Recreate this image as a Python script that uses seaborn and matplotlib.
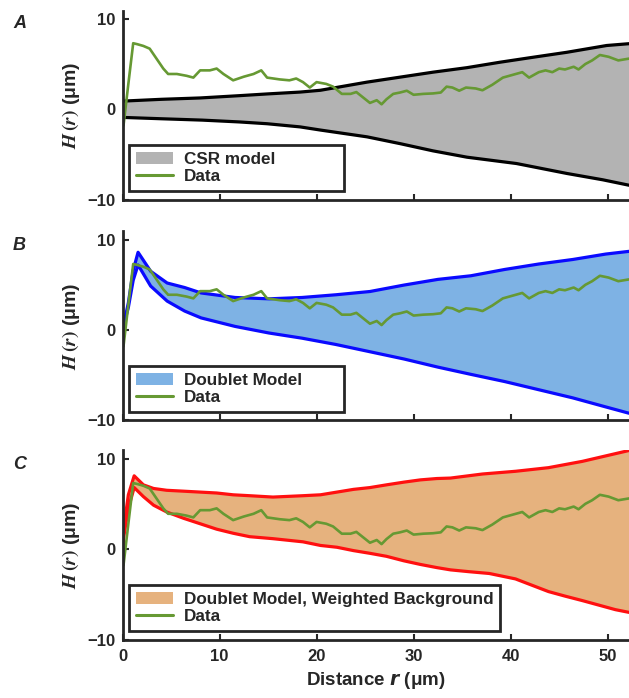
import numpy as np
import matplotlib
matplotlib.use('Agg')
import matplotlib.pyplot as plt
import seaborn as sns
from matplotlib.patches import Patch
from matplotlib.lines import Line2D

# values (r and H(r) both in um)
data_r = [0.1, 0.6, 1.1, 1.5, 2.15, 2.8, 3.5, 4.2, 4.7, 5.6, 6.6, 7.3, 8.0, 9.0, 9.7, 10.4,
          11.4, 12.5, 13.5, 14.3, 14.9, 16.2, 17.2, 17.9, 18.6, 19.3, 20.0, 21.0, 21.7, 22.6,
          23.5, 24.1, 24.8, 25.5, 26.2, 26.7, 27.2, 27.9, 28.6, 29.3, 30.0, 31.0, 32.0, 32.8,
          33.4, 34.0, 34.7, 35.4, 36.4, 37.1, 38.1, 39.2, 40.2, 41.2, 41.9, 42.9, 43.6, 44.3,
          45.0, 45.6, 46.5, 47.0, 47.7, 48.4, 49.2, 50.1, 51.1, 52.2]
data_h = [-1.8, 2.8, 7.3, 7.2, 7.0, 6.7, 5.6, 4.5, 3.9, 3.9, 3.7, 3.5, 4.3, 4.3, 4.5, 3.9,
          3.2, 3.6, 3.9, 4.3, 3.5, 3.3, 3.2, 3.4, 3.0, 2.4, 3.0, 2.8, 2.5, 1.7,
          1.7, 1.9, 1.3, 0.7, 1.0, 0.55, 1.1, 1.7, 1.85, 2.05, 1.6, 1.7, 1.75, 1.85,
          2.5, 2.4, 2.05, 2.4, 2.3, 2.1, 2.7, 3.5, 3.8, 4.1, 3.5, 4.1, 4.3, 4.1,
          4.5, 4.4, 4.7, 4.4, 5.0, 5.4, 6.0, 5.8, 5.4, 5.6]

# A: CSR model envelope
csr_up_r = [0.0, 4.0, 8.0, 12.0, 15.0, 18.3, 20.4, 25.2, 28.6, 32.0, 35.5, 38.9, 42.0, 45.8, 49.9, 52.2]
csr_up_h = [0.9, 1.1, 1.25, 1.5, 1.7, 1.9, 2.1, 3.0, 3.55, 4.1, 4.6, 5.2, 5.7, 6.3, 7.05, 7.25]
csr_lo_r = [0.0, 4.0, 8.2, 12.0, 14.9, 18.3, 20.4, 25.2, 28.6, 32.0, 35.5, 40.6, 45.8, 49.5, 52.2]
csr_lo_h = [-0.9, -1.05, -1.2, -1.4, -1.6, -1.95, -2.3, -3.05, -3.8, -4.6, -5.3, -6.0, -7.1, -7.8, -8.4]

# B: doublet model envelope
dbl_up_r = [0.0, 0.6, 1.1, 1.6, 2.9, 4.6, 6.4, 8.1, 11.6, 15.1, 18.5, 22.0, 25.5, 29.0, 32.5,
            35.9, 39.4, 42.9, 46.4, 49.8, 52.2]
dbl_up_h = [0.0, 3.0, 6.6, 8.6, 6.5, 5.2, 4.7, 4.1, 3.6, 3.45, 3.6, 3.9, 4.26, 4.97, 5.6,
            6.0, 6.7, 7.3, 7.8, 8.4, 8.7]
dbl_lo_r = [0.0, 0.6, 1.1, 1.6, 2.9, 4.6, 6.4, 8.1, 11.6, 15.1, 18.5, 22.0, 25.5, 29.0, 32.5,
            35.9, 39.4, 42.9, 46.4, 49.8, 52.2]
dbl_lo_h = [0.0, 2.5, 5.5, 7.2, 4.86, 3.2, 2.1, 1.34, 0.4, -0.33, -0.9, -1.6, -2.4, -3.2, -4.1,
            -4.9, -5.7, -6.6, -7.5, -8.5, -9.2]

# C: doublet model, weighted background
wbg_up_r = [0.0, 0.15, 0.6, 1.2, 2.15, 3.2, 4.55, 6.3, 8.0, 9.7, 11.4, 13.1, 15.5, 18.6, 20.4,
            22.1, 23.8, 25.5, 27.2, 29.0, 30.7, 32.4, 33.8, 37.1, 40.5, 43.9, 47.4, 49.8, 52.2]
wbg_up_h = [0.2, 2.5, 6.0, 8.1, 7.1, 6.7, 6.5, 6.4, 6.3, 6.2, 6.0, 5.9, 5.75, 5.9, 6.0,
            6.3, 6.6, 6.8, 7.1, 7.4, 7.65, 7.8, 7.85, 8.3, 8.6, 9.0, 9.7, 10.3, 10.9]
wbg_lo_r = [0.0, 0.15, 0.6, 1.2, 2.15, 3.2, 4.55, 6.3, 8.0, 9.7, 11.4, 13.1, 15.5, 18.6, 20.4,
            22.1, 23.8, 25.5, 27.2, 29.0, 30.7, 32.4, 33.8, 35.7, 37.8, 40.5, 42.2, 43.9, 45.6,
            47.4, 49.1, 50.8, 52.2]
wbg_lo_h = [0.2, 1.5, 4.5, 6.8, 5.8, 4.85, 4.1, 3.4, 2.8, 2.2, 1.75, 1.37, 1.15, 0.8, 0.4,
            0.2, -0.17, -0.47, -0.8, -1.3, -1.7, -2.05, -2.3, -2.5, -2.7, -3.3, -4.0, -4.7, -5.2,
            -5.7, -6.2, -6.7, -7.0]

model_labels = ['CSR model', 'Doublet Model', 'Doublet Model, Weighted Background']
panel_letters = ['A', 'B', 'C']

sns.set_style('ticks')
plt.rcParams['font.family'] = ['Liberation Sans', 'DejaVu Sans']
plt.rcParams['font.weight'] = 'bold'
plt.rcParams['axes.labelweight'] = 'bold'

green = '#669933'
dark = '#262626'
panels = [
    (csr_up_r, csr_up_h, csr_lo_r, csr_lo_h, '#b3b3b3', '#000000'),
    (dbl_up_r, dbl_up_h, dbl_lo_r, dbl_lo_h, '#7eb2e4', '#0a0aff'),
    (wbg_up_r, wbg_up_h, wbg_lo_r, wbg_lo_h, '#e6b27e', '#ff1010'),
]

fig = plt.figure(figsize=(6.29, 6.98), dpi=100)
bottoms = [0.7139, 0.3976, 0.0838]
letter_tops = [15, 237, 456]

for k, (ur, uh, lr, lh, fill_c, line_c) in enumerate(panels):
    ax = fig.add_axes([0.1948, bottoms[k], 0.8052, 0.2708])
    # shaded envelope between the upper and lower model curves
    ax.fill(ur + lr[::-1], uh + lh[::-1], color=fill_c, lw=0, zorder=1)
    sns.lineplot(x=ur, y=uh, ax=ax, color=line_c, lw=2.3, sort=False, estimator=None)
    sns.lineplot(x=lr, y=lh, ax=ax, color=line_c, lw=2.3, sort=False, estimator=None)
    sns.lineplot(x=data_r, y=data_h, ax=ax, color=green, lw=1.9, sort=False, estimator=None)

    ax.set_xlim(0, 52.2)
    ax.set_ylim(-10, 10.9)
    ax.set_xticks([0, 10, 20, 30, 40, 50])
    ax.set_yticks([-10, 0, 10])
    sns.despine(ax=ax)
    for s in ['left', 'bottom']:
        ax.spines[s].set_linewidth(2)
        ax.spines[s].set_color(dark)
    ax.tick_params(direction='in', length=4, width=1.5, color=dark, labelsize=12,
                   labelcolor=dark, pad=5)
    for t in ax.get_xticklabels() + ax.get_yticklabels():
        t.set_fontweight('bold')
    if k < 2:
        ax.set_xticklabels([])
    else:
        ax.tick_params(axis='x', pad=7)
        ax.set_xlabel('Distance $\\boldsymbol{r}$ (μm)', fontsize=13.5, color=dark, labelpad=4)
    ax.set_ylabel('$\\boldsymbol{H}\\,(\\boldsymbol{r})$ (μm)', fontsize=14, color=dark,
                  labelpad=4, math_fontfamily='stix')

    handles = [Patch(facecolor=fill_c, edgecolor='none'), Line2D([], [], color=green, lw=2.2)]
    leg_kw = dict(loc='lower left', prop={'weight': 'bold', 'size': 12.3},
                  frameon=True, fancybox=False, framealpha=1, edgecolor=dark,
                  borderaxespad=0, borderpad=0.42, labelspacing=0.1,
                  handlelength=2.2, handletextpad=0.6)
    if k < 2:
        # the first two legend boxes share one fixed width
        leg = ax.legend(handles, [model_labels[k], 'Data'],
                        bbox_to_anchor=(0.0118, 0.045, 0.4245, 0.3), mode='expand', **leg_kw)
    else:
        leg = ax.legend(handles, [model_labels[k], 'Data'],
                        bbox_to_anchor=(0.0118, 0.045), **leg_kw)
    leg.get_frame().set_linewidth(2)

    fig.text(13 / 629, 1 - letter_tops[k] / 698, panel_letters[k], fontsize=13,
             fontweight='bold', style='italic', color=dark, ha='left', va='top')

fig.savefig('out.png', dpi=100)
